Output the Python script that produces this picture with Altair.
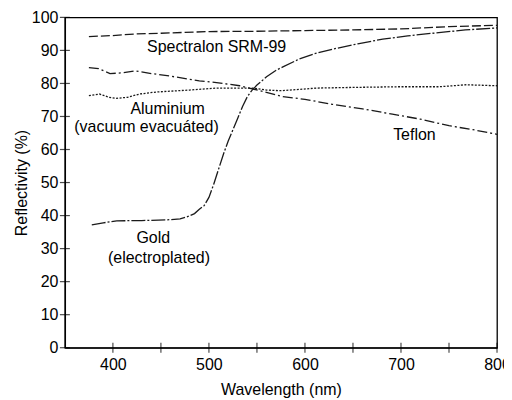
import altair as alt
import pandas as pd

# --- data ---
spec_nm = [375, 400, 425, 450, 500, 550, 600, 650, 700, 750, 800]
spec_val = [94.2, 94.5, 95.0, 95.2, 95.7, 95.8, 96.0, 96.2, 96.5, 97.2, 97.6]

teflon_nm = [375, 385, 397, 410, 423, 440, 460, 490, 510, 532, 553, 577, 600, 628, 660, 691, 720, 750, 775, 800]
teflon_val = [84.8, 84.5, 83.0, 83.2, 83.8, 83.0, 82.2, 80.8, 80.2, 79.3, 77.8, 76.0, 75.2, 73.7, 72.3, 70.7, 69.2, 67.2, 66.0, 64.6]

alu_nm = [375, 386, 396, 404, 415, 428, 445, 456, 480, 508, 530, 545, 560, 574, 590, 612, 650, 698, 740, 768, 800]
alu_val = [76.3, 76.8, 75.8, 75.5, 75.8, 76.8, 77.4, 77.6, 78.0, 78.6, 78.6, 78.6, 78.0, 77.8, 78.1, 78.6, 78.8, 79.0, 79.0, 79.6, 79.3]

gold_nm = [378, 390, 404, 430, 456, 470, 477, 485, 490, 495, 500, 505, 510, 515, 520, 525, 530, 535, 540,
           545, 550, 560, 570, 577, 594, 610, 629, 655, 681, 707, 733, 767, 800]
gold_val = [37.2, 37.8, 38.4, 38.5, 38.7, 39.0, 39.6, 40.6, 41.9, 43.0, 45.5, 49.5, 54.0, 58.5, 62.5, 66.0, 69.5, 73.0, 76.0,
            78.0, 79.5, 82.0, 84.0, 85.0, 87.4, 89.0, 90.4, 92.0, 93.4, 94.4, 95.2, 96.2, 96.8]

series_names = ["Spectralon", "Teflon", "Aluminium", "Gold"]
series_dash = [[9, 3], [10, 3, 2, 3], [2, 1.5], [14, 2, 2, 2]]

label_text = ["Spectralon SRM-99", "Aluminium", "(vacuum evacuáted)", "Gold", "(electroplated)", "Teflon"]
label_nm = [508, 457, 435, 442, 448, 714]
label_val = [91, 72.2, 66.8, 33.1, 27.2, 64.4]

x_ticks = [400, 450, 500, 550, 600, 650, 700, 750, 800]
x_labels = [400, 500, 600, 700, 800]
y_ticks = [0, 10, 20, 30, 40, 50, 60, 70, 80, 90, 100]

# --- tables ---
frames = []
for name, nm, val in [("Spectralon", spec_nm, spec_val), ("Teflon", teflon_nm, teflon_val),
                      ("Aluminium", alu_nm, alu_val), ("Gold", gold_nm, gold_val)]:
    frames.append(pd.DataFrame({"series": name, "nm": nm, "val": val}))
df = pd.concat(frames, ignore_index=True)
df["order"] = df.index

labels_df = pd.DataFrame({"text": label_text, "nm": label_nm, "val": label_val})
xt_df = pd.DataFrame({"nm": x_ticks, "val": [0] * len(x_ticks)})
yt_df = pd.DataFrame({"nm": [350] * len(y_ticks), "val": y_ticks})

FONT = "Liberation Sans"
xscale = alt.Scale(domain=[350, 800], nice=False, zero=False)
yscale = alt.Scale(domain=[0, 100], nice=False)

xaxis = alt.Axis(title="Wavelength (nm)", values=x_labels, ticks=False, grid=False,
                 labelPadding=9, titlePadding=9, domainColor="black", domainWidth=1.3,
                 labelFont=FONT, labelFontSize=16, labelColor="black", labelOverlap=False,
                 titleFont=FONT, titleFontSize=16, titleFontWeight="normal", titleColor="black",
                 labelFlush=False)
yaxis = alt.Axis(title="Reflectivity (%)", values=y_ticks, ticks=False, grid=False,
                 labelPadding=7, titlePadding=2, domainColor="black", domainWidth=1.3,
                 labelFont=FONT, labelFontSize=16, labelColor="black", labelOverlap=False,
                 titleFont=FONT, titleFontSize=16, titleFontWeight="normal", titleColor="black")

xenc = alt.X("nm:Q", scale=xscale, axis=xaxis, title="Wavelength (nm)")
yenc = alt.Y("val:Q", scale=yscale, axis=yaxis, title="Reflectivity (%)")

lines = alt.Chart(df).mark_line(strokeWidth=1.3, color="#1a1a1a").encode(
    x=xenc, y=yenc,
    strokeDash=alt.StrokeDash("series:N", scale=alt.Scale(domain=series_names, range=series_dash), legend=None),
    detail="series:N",
    order="order:Q",
)

texts = alt.Chart(labels_df).mark_text(font=FONT, fontSize=16, color="black", align="center", baseline="middle").encode(
    x=xenc, y=yenc, text="text:N")

xticks = alt.Chart(xt_df).mark_tick(orient="vertical", size=10, thickness=1.2, color="black").encode(
    x=xenc, y=yenc)
yticks = alt.Chart(yt_df).mark_tick(orient="horizontal", size=10, thickness=1.2, color="black").encode(
    x=xenc, y=yenc)

chart = alt.layer(lines, texts, xticks, yticks).properties(
    width=433, height=331,
    autosize=alt.AutoSizeParams(type="none"),
    padding={"left": 57, "top": 9, "right": 7, "bottom": 52},
    background="white",
).configure_view(stroke="black", strokeWidth=1.3).configure_axis(labelOverlap=False)

chart.save("out.html", embed_options={"renderer": "svg", "actions": False})
